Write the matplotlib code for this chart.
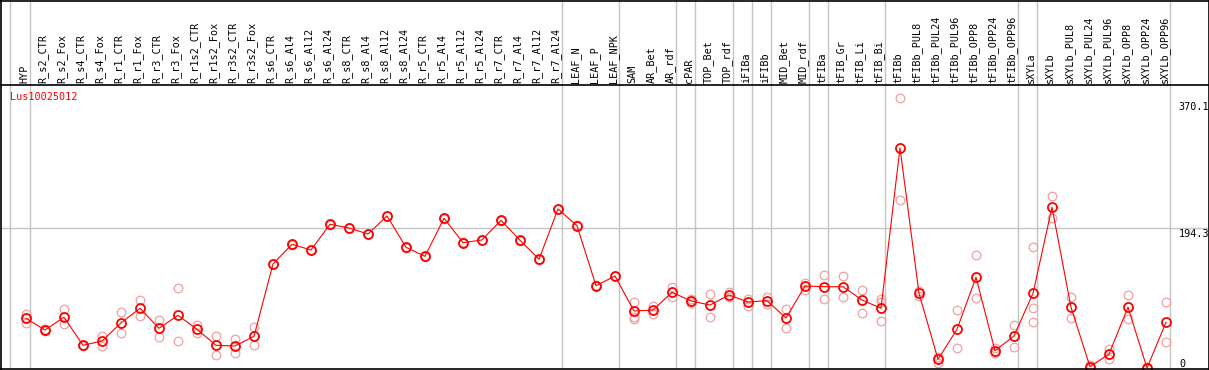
import matplotlib
matplotlib.use('Agg')
import matplotlib.pyplot as plt

# sample names across the top of the chart
samples = ['HYP', 'R_s2_CTR', 'R_s2_Fox', 'R_s4_CTR', 'R_s4_Fox', 'R_r1_CTR', 'R_r1_Fox',
           'R_r3_CTR', 'R_r3_Fox', 'R_r1s2_CTR', 'R_r1s2_Fox', 'R_r3s2_CTR', 'R_r3s2_Fox',
           'R_s6_CTR', 'R_s6_Al4', 'R_s6_Al12', 'R_s6_Al24', 'R_s8_CTR', 'R_s8_Al4',
           'R_s8_Al12', 'R_s8_Al24', 'R_r5_CTR', 'R_r5_Al4', 'R_r5_Al12', 'R_r5_Al24',
           'R_r7_CTR', 'R_r7_Al4', 'R_r7_Al12', 'R_r7_Al24', 'LEAF_N', 'LEAF_P', 'LEAF_NPK',
           'SAM', 'AR_Bet', 'AR_rdf', 'cPAR', 'TOP_Bet', 'TOP_rdf', 'iFIBa', 'iFIBb',
           'MID_Bet', 'MID_rdf', 'tFIBa', 'tFIB_Gr', 'tFIB_Li', 'tFIB_Bi', 'tFIBb',
           'tFIBb_PUL8', 'tFIBb_PUL24', 'tFIBb_PUL96', 'tFIBb_OPP8', 'tFIBb_OPP24',
           'tFIBb_OPP96', 'sXYLa', 'sXYLb', 'sXYLb_PUL8', 'sXYLb_PUL24', 'sXYLb_PUL96',
           'sXYLb_OPP8', 'sXYLb_OPP24', 'sXYLb_OPP96']

# mean expression per sample
means = [69.0, 52.7, 70.4, 31.5, 37.5, 62.5, 82.9, 55.1, 73.1, 53.7, 31.5, 30.5, 44.0,
         144.4, 171.7, 163.8, 199.5, 194.3, 186.0, 211.0, 167.5, 155.0, 207.8, 173.9,
         177.7, 205.0, 177.2, 150.9, 220.7, 197.5, 114.2, 127.7,
         79.1, 80.5, 105.1, 93.0, 87.4, 101.3, 91.6, 93.4, 69.4, 113.8, 112.8, 112.8,
         94.4, 82.9, 305.4, 103.7, 12.1, 53.7, 125.9, 24.0, 44.4, 103.7, 223.1, 84.3,
         1.8, 19.4, 84.3, 0.0, 63.4]

# replicate values per sample
reps = [[75.0, 69.4, 62.5], [51.5, 54.0], [81.5, 60.7], [32.6, 30.5], [44.4, 30.5],
        [77.3, 48.2], [94.0, 71.8], [66.2, 43.4], [110.6, 37.1], [60.1, 48.2],
        [44.8, 18.5], [40.3, 21.2], [56.5, 32.3],
        [145.0, 143.8], [172.3, 171.1], [164.4, 163.2], [200.1, 198.9], [194.9, 193.7],
        [186.6, 185.4], [211.6, 210.4], [168.1, 166.9], [155.6, 154.4], [208.4, 207.2],
        [174.5, 173.3], [178.3, 177.1], [205.6, 204.4], [177.8, 176.6], [151.5, 150.3],
        [221.3, 220.1], [198.1, 196.9], [114.8, 113.6], [128.3, 127.1],
        [92.0, 71.2, 68.0], [86.5, 74.5], [112.8, 98.1], [89.8, 95.8], [102.3, 70.4],
        [105.5, 98.1], [95.4, 86.5], [99.0, 88.8], [81.5, 55.1], [117.6, 108.3],
        [128.7, 95.4], [127.3, 99.0], [108.3, 75.9], [95.4, 92.0, 65.2],
        [374.3, 233.2], [106.9, 99.9], [15.7, 7.4], [80.1, 27.3], [156.4, 96.7],
        [27.3, 20.4], [59.3, 28.7], [167.5, 82.9, 63.4], [238.7, 207.8], [99.0, 69.0],
        [4.2, 0.0], [26.0, 12.1], [100.9, 67.6], [1.0, 0.0], [91.2, 35.7]]

# samples that close a group (grey separator drawn just after them)
group_ends = ['HYP', 'R_r7_Al24', 'LEAF_NPK', 'AR_rdf', 'cPAR', 'TOP_rdf', 'iFIBa', 'iFIBb',
              'MID_rdf', 'tFIBa', 'tFIB_Bi', 'tFIBb_OPP96', 'sXYLa', 'sXYLb_OPP96']

gene = 'Lus10025012'
y_max = 370.1
y_mid = 194.3

W, H = 1209, 370
fig = plt.figure(figsize=(W / 100, H / 100), dpi=100)
mono = 'DejaVu Sans Mono'
fs = 7.3
grey = '#c4c4c4'

# pixel layout: sample i sits at x = 26 + 19*i, value 0 at y=368 and 194.3 at y=228
px0, dpx = 26, 19
xl = ((1 - px0) / dpx, (1208 - px0) / dpx)
ypx0, ys = 368, (368 - 228) / y_mid
head_y = 85

ax = fig.add_axes([1 / W, 1 / H, 1207 / W, (369 - head_y) / H])
ax.set_xlim(*xl)
ax.set_ylim((ypx0 - 369) / ys, (ypx0 - head_y) / ys)
ax.axis('off')

hd = fig.add_axes([1 / W, (H - head_y) / H, 1207 / W, head_y / H])
hd.set_xlim(*xl)
hd.set_ylim(0, head_y)
hd.axis('off')

# group separators through header and plot
seps = [-0.84] + [samples.index(s) + 0.22 for s in group_ends]
for s in seps:
    ax.axvline(s, color=grey, lw=1.0, zorder=1)
    hd.axvline(s, color=grey, lw=1.0, zorder=1)
ax.axhline(y_mid, color=grey, lw=1.0, zorder=1)

# sample labels
for i, name in enumerate(samples):
    hd.text(i - 0.1, 2, name, rotation=90, ha='center', va='bottom',
            fontsize=fs, family=mono, color='black')

# replicates
for i, r in enumerate(reps):
    ax.plot([i] * len(r), r, linestyle='none', marker='o', ms=6.2, mfc='none',
            mec='#f0a0a0', mew=0.9, zorder=2)

x = list(range(len(samples)))
ax.plot(x, means, color='red', lw=0.8, zorder=3)
ax.plot(x, means, linestyle='none', marker='o', ms=6.5, mfc='none', mec='red',
        mew=1.3, zorder=4)

ax.text(-0.84, (ypx0 - 97) / ys, gene, color='red', fontsize=fs, family=mono,
        ha='left', va='center')

ax.text(xl[1] + 0.05, y_max - 1, '%.1f' % y_max, fontsize=fs, family=mono, ha='right', va='top')
ax.text(xl[1] + 0.05, y_mid - 1, '%.1f' % y_mid, fontsize=fs, family=mono, ha='right', va='top')
ax.text((1179 - px0) / dpx, (ypx0 - 359) / ys, '0', fontsize=fs, family=mono, ha='left', va='top')

# black frame lines
frame = fig.add_axes([0, 0, 1, 1], facecolor='none')
frame.set_xlim(0, W)
frame.set_ylim(H, 0)
frame.axis('off')
frame.plot([0.5, 0.5], [0, H], color='black', lw=1.2)
frame.plot([W - 0.5, W - 0.5], [0, H], color='black', lw=1.2)
frame.plot([0, W], [0.5, 0.5], color='black', lw=1.2)
frame.plot([0, W], [head_y, head_y], color='black', lw=1.2)
frame.plot([0, W], [H - 0.8, H - 0.8], color='black', lw=1.2)

fig.savefig('out.png', dpi=100)
